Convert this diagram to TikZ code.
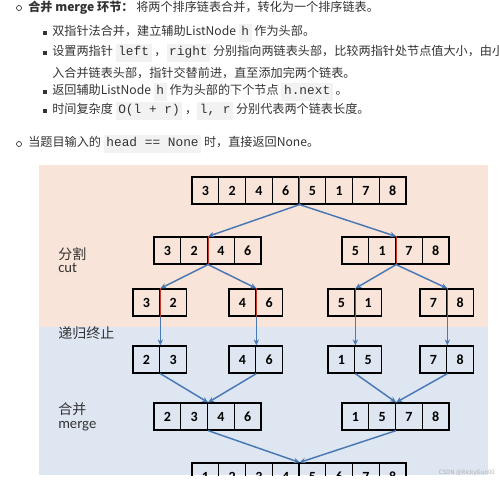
\documentclass[tikz,border=0pt]{standalone}
\usepackage{fontspec}
\setmainfont{Noto Sans CJK SC}
\newfontfamily\monofont{Liberation Mono}
\newfontfamily\cellfont{Carlito}
\usepackage{xcolor}
\usetikzlibrary{positioning,arrows.meta}
\definecolor{peach}{HTML}{F8E4D8}
\definecolor{paleBlue}{HTML}{DDE6F1}
\definecolor{arrowBlue}{HTML}{4A78B5}
\definecolor{cutRed}{HTML}{C0392B}
\definecolor{codeBg}{HTML}{F2F2F2}
\definecolor{textGray}{HTML}{333333}
\tikzstyle{cell}  =[draw=black,line width=0.9pt,minimum width=20.06pt,minimum height=20.25pt,inner sep=0pt,font=\cellfont\bfseries\fontsize{10.5}{12}\selectfont]
\tikzstyle{txt}   =[anchor=west,inner sep=0pt,text=textGray,font=\fontsize{9.1}{10}\selectfont]
\tikzstyle{tag}   =[anchor=west,inner sep=0pt,align=left,text=textGray,font=\fontsize{10.5}{12}\selectfont]
\tikzstyle{link}  =[-{Stealth[length=4.5pt,width=4pt]},draw=arrowBlue,line width=1.1pt]
\tikzstyle{cutmark}=[draw=cutRed,line width=0.8pt]
\newcommand{\cd}[1]{{\setlength{\fboxsep}{2pt}\colorbox{codeBg}{\monofont\fontsize{9.6}{10}\selectfont\strut #1}}}
\newcommand{\cells}[4]{\foreach \v [count=\i] in {#4}
  \node[cell] (#1-\i) at ({#2+(\i-0.5)*26.75},{#3+13.5}) {\v};}

\begin{document}
\begin{tikzpicture}[x=0.75pt,y=-0.75pt]
\useasboundingbox (0,0) rectangle (499,480);
\clip (0,0) rectangle (499,480);

% text above the figure
\node[circle,draw=textGray,line width=0.5pt,inner sep=0pt,minimum size=3.8pt] (b1) at (19,8) {};
\node[txt] (t1) at (28,8) {\textbf{合并 merge 环节：} 将两个排序链表合并，转化为一个排序链表。};
\node[fill=textGray,inner sep=0pt,minimum size=3.3pt] (b2) at (45,33) {};
\node[txt] (t2) at (52,33) {双指针法合并，建立辅助ListNode \cd{h} 作为头部。};
\node[fill=textGray,inner sep=0pt,minimum size=3.3pt] (b3) at (45,53) {};
\node[txt] (t3) at (52,53) {设置两指针 \cd{left} ，\cd{right} 分别指向两链表头部，比较两指针处节点值大小，由小到大加};
\node[txt] (t4) at (52,73) {入合并链表头部，指针交替前进，直至添加完两个链表。};
\node[fill=textGray,inner sep=0pt,minimum size=3.3pt] (b5) at (45,92) {};
\node[txt] (t5) at (52,92) {返回辅助ListNode \cd{h} 作为头部的下个节点 \cd{h.next} 。};
\node[fill=textGray,inner sep=0pt,minimum size=3.3pt] (b6) at (45,111) {};
\node[txt] (t6) at (52,111) {时间复杂度 \cd{O(l + r)} ，\cd{l, r} 分别代表两个链表长度。};
\node[circle,draw=textGray,line width=0.5pt,inner sep=0pt,minimum size=3.8pt] (b7) at (19,144) {};
\node[txt] (t7) at (28,144) {当题目输入的 \cd{head == None} 时，直接返回None。};

% the figure
\begin{scope}
\clip (39,165) rectangle (488,475);
\fill[peach] (39,165) rectangle (488,327);
\fill[paleBlue] (39,327) rectangle (488,475);

\node[tag] (cutlbl) at (58,260) {分割\\[-2pt]{\cellfont\fontsize{11}{12}\selectfont cut}};
\node[tag] (stoplbl) at (58,333) {递归终止};
\node[tag] (mergelbl) at (58,417) {合并\\[-2pt]{\cellfont\fontsize{11}{12}\selectfont merge}};

\cells{top}{192}{177}{3,2,4,6,5,1,7,8}
\cells{cl}{154}{237}{3,2,4,6}
\cells{cr}{342}{237}{5,1,7,8}
\cells{p1}{133}{289}{3,2}
\cells{p2}{229}{289}{4,6}
\cells{p3}{328}{289}{5,1}
\cells{p4}{420}{289}{7,8}
\cells{q1}{133}{346}{2,3}
\cells{q2}{229}{346}{4,6}
\cells{q3}{328}{346}{1,5}
\cells{q4}{420}{346}{7,8}
\cells{ml}{154}{403}{2,3,4,6}
\cells{mr}{342}{403}{1,5,7,8}
\cells{all}{192}{463}{1,2,3,4,5,6,7,8}

\draw[cutmark] (top-4.north east) -- (top-4.south east);
\foreach \n in {cl,cr} \draw[cutmark] (\n-2.north east) -- (\n-2.south east);
\foreach \n in {p1,p2,p3,p4} \draw[cutmark] (\n-1.north east) -- (\n-1.south east);

\draw[link] (top-4.south east) -- (cl-2.north east);
\draw[link] (top-4.south east) -- (cr-2.north east);
\draw[link] (cl-2.south east) -- (p1-1.north east);
\draw[link] (cl-2.south east) -- (p2-1.north east);
\draw[link] (cr-2.south east) -- (p3-1.north east);
\draw[link] (cr-2.south east) -- (p4-1.north east);
\foreach \i in {1,2,3,4} \draw[link] (p\i-1.south east) -- (q\i-1.north east);
\draw[link] (q1-1.south east) -- (ml-2.north east);
\draw[link] (q2-1.south east) -- (ml-2.north east);
\draw[link] (q3-1.south east) -- (mr-2.north east);
\draw[link] (q4-1.south east) -- (mr-2.north east);
\draw[link] (ml-2.south east) -- (all-4.north east);
\draw[link] (mr-2.south east) -- (all-4.north east);
\end{scope}

\node[anchor=east,inner sep=0pt,text=black!30,font=\fontsize{4.5}{5}\selectfont] (mark) at (495,473) {CSDN @RickyGuo00};
\end{tikzpicture}
\end{document}
